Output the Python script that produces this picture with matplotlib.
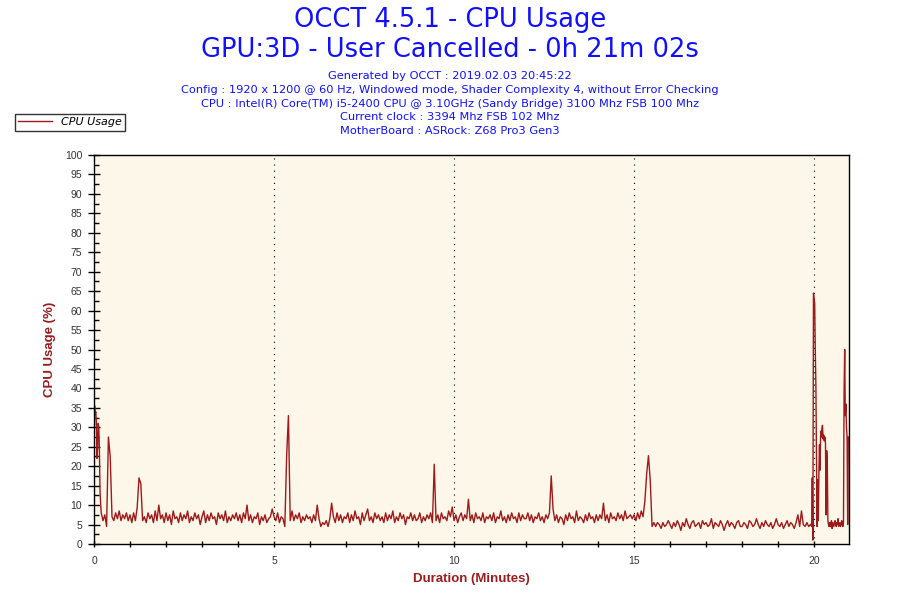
import matplotlib
matplotlib.use('Agg')
import matplotlib.pyplot as plt
from matplotlib.ticker import MultipleLocator
import numpy as np

# CPU usage (%)
# first 12 s, one sample per second
cpu_start = [22, 35.5, 33.5, 34, 31, 22, 25, 31, 30, 24, 14, 10.5]

# 12 s .. 1194 s, one sample every 3 s (one row per minute)
cpu_mid = [
    8, 6, 7.5, 4.5, 27.5, 22.5, 7, 6, 8, 6.5, 8.5, 6, 7.5, 6.5, 8, 6,
    7.5, 5.5, 8, 6, 9.5, 17, 15.5, 6, 7, 5.5, 8, 6.5, 7.5, 5.5, 8.5, 6, 10, 6.5, 7.5, 5.5,
    8, 6, 7.5, 5, 8.5, 6.5, 7, 5.5, 8, 6, 7.5, 6.5, 8.5, 5.5, 7, 6, 8, 6.5, 7.5, 5,
    7, 8.5, 5.5, 7.5, 6, 8, 6.5, 7, 5, 8, 6.5, 7.5, 6, 8.5, 5.5, 7, 6, 7.5, 6.5, 8,
    6, 7.5, 5.5, 8, 6.5, 10, 6, 7.5, 5.5, 7, 6.5, 8, 5, 7, 6, 7.5, 5.5, 6.5, 7, 9,
    7, 6, 8, 5.5, 7, 6.5, 4.5, 22.5, 33, 6, 8.5, 6, 7.5, 6.5, 8, 5.5, 7, 6, 7.5, 6.5,
    7, 5.5, 7.5, 6, 10, 6.5, 4.5, 5.5, 5, 6, 4.5, 6.5, 10.5, 7, 5.5, 8, 6, 7.5, 5.5, 7,
    6.5, 8, 5.5, 7.5, 6, 8.5, 6.5, 7, 5, 8, 6, 7.5, 9, 6, 7, 5.5, 8, 6.5, 7.5, 6,
    7, 5.5, 8, 6, 7.5, 6.5, 8.5, 5.5, 7, 6, 8, 6.5, 7.5, 5, 7, 6.5, 8, 6, 7.5, 6,
    6.5, 8, 5.5, 7, 6, 7.5, 6.5, 8, 5.5, 20.5, 6, 7.5, 5.5, 8, 6.5, 7, 6, 8.5, 7, 9.5,
    6, 7.5, 5.5, 7, 8, 6, 7.5, 6.5, 11.5, 6, 7.5, 5.5, 8, 6.5, 7, 6, 8, 5.5, 7, 6.5,
    7.5, 6, 8, 5.5, 7, 6.5, 8.5, 6, 7, 5.5, 7.5, 6, 8, 6.5, 7, 5.5, 8, 6, 7.5, 6.5,
    6.5, 8, 6, 7.5, 5.5, 7, 6.5, 8, 6, 7, 5.5, 7.5, 6.5, 8, 17.5, 9, 6, 7.5, 5.5, 7,
    6.5, 5, 7.5, 6, 8, 6.5, 7, 5.5, 8.5, 6, 7, 6.5, 5.5, 7.5, 6, 8, 6.5, 7, 5.5, 7.5,
    6, 7.5, 6.5, 10.5, 6, 7.5, 5.5, 8, 6.5, 7, 6, 8, 6.5, 7.5, 6, 8.5, 6.5, 7, 7.5, 6.5,
    7.5, 6, 8, 6.5, 8.5, 7, 11, 18, 22.7, 16.3, 4.5, 5.5, 4.5, 5.5, 5, 4, 5.5, 4.5, 5, 6,
    5, 4, 5.5, 4.5, 6, 5, 3.5, 5.5, 4.5, 6.5, 5, 4, 5.5, 6, 4.5, 5, 5.5, 4, 6, 5,
    5.5, 4.5, 5, 6.5, 4, 5.5, 5, 4.5, 6, 5, 3.5, 5, 6, 4.5, 5.5, 5, 4, 5.5, 6, 4.5,
    4.5, 5.5, 5, 4, 6, 5.5, 4.5, 5, 6.5, 5, 4, 5.5, 4.5, 6, 5, 4.5, 5.5, 4, 5, 6.5,
    5, 4.5, 5.5, 4, 5, 6, 4.5, 5.5, 5, 4, 5.5, 7.5, 4.5, 8.5, 5, 4.5, 5.5, 4.5, 5,
]

# 1195 s .. 1258 s, one sample per second
cpu_end = [
    5, 4.5,
    17, 1, 64.5, 63, 62, 50, 41, 22, 4.5, 16.5, 6, 18, 25.5, 19, 29,
    27.5, 29.5, 30.5, 27, 28, 26.5, 27.5, 26, 7.5, 24, 21.5, 6, 5, 4.5,
    5.5, 4.5, 5, 6, 4, 5.5, 5, 4.5, 5.5, 6, 5, 4.5, 5.5, 5, 6.5, 4.5,
    5, 5.5, 4.5, 5, 6, 5, 4.5, 5.5,
    39, 50, 33, 36, 30, 27.5, 5, 27.5, 27.5,
]

title1 = 'OCCT 4.5.1 - CPU Usage'
title2 = 'GPU:3D - User Cancelled - 0h 21m 02s'
info_lines = [
    'Generated by OCCT : 2019.02.03 20:45:22',
    'Config : 1920 x 1200 @ 60 Hz, Windowed mode, Shader Complexity 4, without Error Checking',
    'CPU : Intel(R) Core(TM) i5-2400 CPU @ 3.10GHz (Sandy Bridge) 3100 Mhz FSB 100 Mhz',
    'Current clock : 3394 Mhz FSB 102 Mhz',
    'MotherBoard : ASRock: Z68 Pro3 Gen3',
]

# sampling times in seconds -> minutes
secs = np.concatenate([np.arange(0, 12), np.arange(12, 1195, 3), np.arange(1195, 1259)])
minutes = secs / 60.0
cpu = np.array(cpu_start + cpu_mid + cpu_end)

line_col = '#9e1a1a'
label_col = '#9a1c1c'
blue = '#1010ff'

plt.rcParams['font.family'] = ['DejaVu Sans']

fig = plt.figure(figsize=(9, 6), dpi=100)
ax = fig.add_axes([94 / 900, 1 - 544 / 600, 755 / 900, 389 / 600])
ax.set_facecolor('#fdf7e9')

ax.plot(minutes, cpu, color=line_col, lw=1.0, label='CPU Usage')

for xv in [5, 10, 15, 20]:
    ax.axvline(xv, color='black', lw=0.8, ls=(0, (1, 4.5)), zorder=1)

ax.set_xlim(0, 20.97)
ax.set_ylim(0, 100)
ax.xaxis.set_major_locator(MultipleLocator(5))
ax.xaxis.set_minor_locator(MultipleLocator(1))
ax.yaxis.set_major_locator(MultipleLocator(5))
ax.yaxis.set_minor_locator(MultipleLocator(2.5))

for s in ax.spines.values():
    s.set_linewidth(1.0)
    s.set_color('black')

ax.tick_params(axis='y', which='major', direction='inout', length=9, width=1,
               labelsize=7.5, labelcolor='#333333', pad=4)
ax.tick_params(axis='y', which='minor', direction='in', length=3.5, width=1)
ax.tick_params(axis='x', which='both', direction='inout', length=5, width=1,
               labelsize=7.5, labelcolor='#333333', pad=6)
for lab in ax.get_xticklabels() + ax.get_yticklabels():
    lab.set_fontfamily('Liberation Sans')

ax.set_xlabel('Duration (Minutes)', color=label_col, fontsize=9.5, fontweight='bold',
              family='Liberation Sans', labelpad=5)
ax.set_ylabel('CPU Usage (%)', color=label_col, fontsize=9.5, fontweight='bold',
              family='Liberation Sans', labelpad=6)

fig.text(0.5, 1 - 20 / 600, title1, ha='center', va='center', fontsize=18.5, color=blue)
fig.text(0.5, 1 - 50 / 600, title2, ha='center', va='center', fontsize=18.5, color=blue)
for i, line in enumerate(info_lines):
    fig.text(0.5, 1 - (76 + i * 13.8) / 600, line, ha='center', va='center',
             fontsize=8.2, color=blue)

leg = fig.legend(loc='upper left', bbox_to_anchor=(15 / 900, 1 - 114 / 600),
                 frameon=True, fancybox=False, prop={'style': 'italic', 'size': 8},
                 handlelength=3, borderpad=0.3, handletextpad=0.8, borderaxespad=0)
leg.get_frame().set_edgecolor('black')
leg.get_frame().set_linewidth(1.0)

fig.savefig('out.png', dpi=100)
